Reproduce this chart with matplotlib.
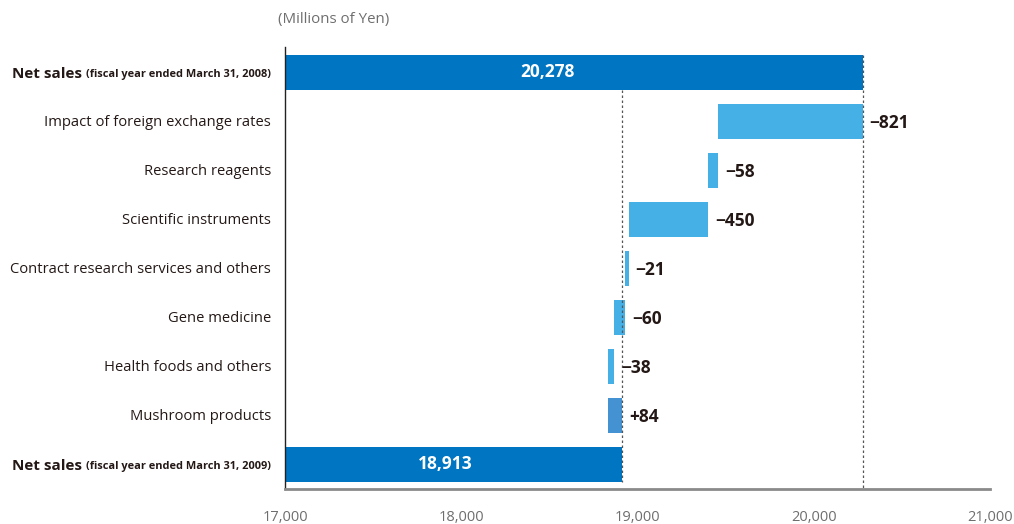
import matplotlib
matplotlib.use("Agg")
import matplotlib.pyplot as plt

# Net sales bridge, fiscal 2008 -> fiscal 2009 (millions of yen)
categories = [
    "Net sales",
    "Impact of foreign exchange rates",
    "Research reagents",
    "Scientific instruments",
    "Contract research services and others",
    "Gene medicine",
    "Health foods and others",
    "Mushroom products",
    "Net sales",
]
sublabels = ["(fiscal year ended March 31, 2008)", "", "", "", "", "", "", "",
             "(fiscal year ended March 31, 2009)"]
start_total = 20278
end_total = 18913
changes = [-821, -58, -450, -21, -60, -38, 84]
change_labels = ["\u2212821", "\u221258", "\u2212450", "\u221221", "\u221260", "\u221238", "+84"]
xticks = [17000, 18000, 19000, 20000, 21000]
xticklabels = ["17,000", "18,000", "19,000", "20,000", "21,000"]

DARK = "#0075c2"
LIGHT = "#45b0e5"
UP = "#4592d2"
TEXT = "#231815"
GREY = "#6e6e6e"
FONT = ["Open Sans", "DejaVu Sans"]
plt.rcParams["font.family"] = FONT

fig = plt.figure(figsize=(10.14, 5.24), dpi=100)
ax = fig.add_axes([285 / 1014, 1 - 489 / 524, 705 / 1014, 442 / 524])
xmin, xmax = 17000, 21000
h = 0.7

# total bars
ax.barh(0, start_total - xmin, left=xmin, height=h, color=DARK)
ax.barh(8, end_total - xmin, left=xmin, height=h, color=DARK)
ax.text((xmin + start_total) / 2 - 150, 0, "20,278", color="white", fontsize=12.5,
        fontweight="bold", ha="center", va="center")
ax.text((xmin + end_total) / 2 - 45, 8, "18,913", color="white", fontsize=12.5,
        fontweight="bold", ha="center", va="center")

# change bars
level = start_total
for i, (c, lab) in enumerate(zip(changes, change_labels), start=1):
    new = level + c
    lo, hi = min(level, new), max(level, new)
    ax.barh(i, hi - lo, left=lo, height=h, color=UP if c > 0 else LIGHT)
    ax.annotate(lab, xy=(hi, i), xytext=(5, -1), textcoords="offset points",
                ha="left", va="center", fontsize=12.5, fontweight="bold", color=TEXT)
    level = new

# guide lines at the two totals
ax.vlines(start_total, -h / 2, 8.5, colors="#555555", linestyles=(0, (2, 2)), linewidth=0.9)
ax.vlines(end_total, h / 2, 8 + h / 2, colors="#555555", linestyles=(0, (2, 2)), linewidth=0.9)

ax.set_xlim(xmin, xmax)
ax.set_ylim(8.5, -0.52)
ax.set_xticks(xticks)
ax.set_xticklabels(xticklabels, fontsize=10.5, color=GREY)
ax.tick_params(axis="x", length=0, pad=15)
ax.set_yticks([])

for s in ["top", "right"]:
    ax.spines[s].set_visible(False)
ax.spines["left"].set_color("#222222")
ax.spines["left"].set_linewidth(1.0)
ax.spines["bottom"].set_color("#8a8a8a")
ax.spines["bottom"].set_linewidth(2.0)

# category labels
for i, (cat, sub) in enumerate(zip(categories, sublabels)):
    if sub:
        t = ax.annotate(sub, xy=(0, i), xycoords=("axes fraction", "data"),
                        xytext=(-10, -1.5), textcoords="offset points",
                        ha="right", va="center", fontsize=7.9, fontweight="bold", color=TEXT)
        fig.canvas.draw()
        bb = t.get_window_extent()
        x_disp = bb.x0 - 4
        xa = ax.transAxes.inverted().transform((x_disp, 0))[0]
        ax.annotate(cat, xy=(xa, i), xycoords=("axes fraction", "data"),
                    xytext=(0, -1), textcoords="offset points",
                    ha="right", va="center", fontsize=11, fontweight="bold", color=TEXT)
    else:
        ax.annotate(cat, xy=(0, i), xycoords=("axes fraction", "data"),
                    xytext=(-10, -1), textcoords="offset points",
                    ha="right", va="center", fontsize=10.6, color=TEXT)

fig.text(278 / 1014, 1 - 20 / 524, "(Millions of Yen)", fontsize=10.8, color=GREY,
         ha="left", va="center")

fig.savefig("out.png", dpi=100)
